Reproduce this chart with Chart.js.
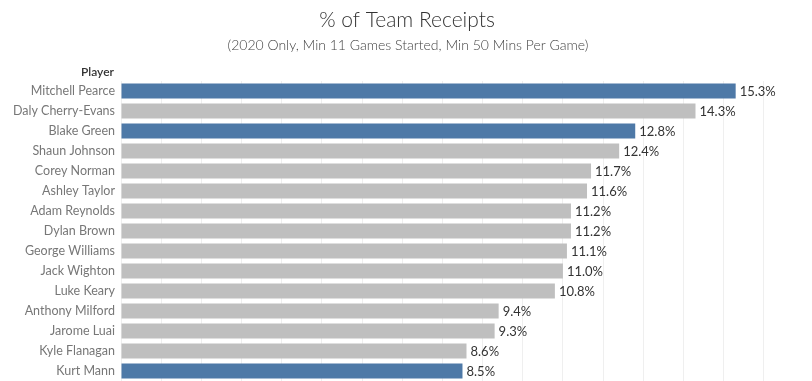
<!DOCTYPE html>
<html>
<head>
<meta charset="utf-8">
<script src="https://cdn.jsdelivr.net/npm/chart.js@4"></script>
<style>
  html, body { margin: 0; padding: 0; background: #fff; }
  #wrap { width: 812px; height: 381px; position: relative; }
</style>
</head>
<body>
<div id="wrap"><canvas id="c" width="812" height="381"></canvas></div>
<script>
const players = ['Mitchell Pearce','Daly Cherry-Evans','Blake Green','Shaun Johnson','Corey Norman','Ashley Taylor','Adam Reynolds','Dylan Brown','George Williams','Jack Wighton','Luke Keary','Anthony Milford','Jarome Luai','Kyle Flanagan','Kurt Mann'];
const receiptsPct = [15.3, 14.3, 12.8, 12.4, 11.7, 11.6, 11.2, 11.2, 11.1, 11.0, 10.8, 9.4, 9.3, 8.6, 8.5];
const highlighted = ['Mitchell Pearce','Blake Green','Kurt Mann'];
const titleText = '% of Team Receipts';
const subtitleText = '(2020 Only, Min 11 Games Started, Min 50 Mins Per Game)';
const rowHeader = 'Player';

const FONT = 'Lato, "Noto Sans", sans-serif';
const BLUE = '#4e79a7', GREY = '#bfbfbf';

const textPlugin = {
  id: 'texts',
  afterDraw(chart) {
    const ctx = chart.ctx;
    ctx.save();
    ctx.textAlign = 'center';
    ctx.textBaseline = 'middle';
    ctx.fillStyle = '#333';
    ctx.font = '300 21px ' + FONT;
    ctx.fillText(titleText, 407, 20);
    ctx.fillStyle = '#444';
    ctx.font = '300 14px ' + FONT;
    ctx.fillText(subtitleText, 408, 45);
    ctx.textAlign = 'right';
    ctx.fillStyle = '#333';
    ctx.font = '600 12px ' + FONT;
    ctx.fillText(rowHeader, 114, 72);
    const meta = chart.getDatasetMeta(0);
    ctx.textAlign = 'left';
    ctx.font = '13px ' + FONT;
    ctx.fillStyle = '#333';
    meta.data.forEach((bar, i) => {
      ctx.fillText(receiptsPct[i].toFixed(1) + '%', bar.x + 4, bar.y + 1);
    });
    ctx.restore();
  }
};

new Chart(document.getElementById('c'), {
  type: 'bar',
  data: {
    labels: players,
    datasets: [{
      data: receiptsPct,
      backgroundColor: players.map(p => highlighted.includes(p) ? BLUE : GREY),
      barPercentage: 0.75,
      categoryPercentage: 1.0
    }]
  },
  options: {
    indexAxis: 'y',
    responsive: false,
    animation: false,
    layout: { autoPadding: false, padding: { top: 81, left: 0, right: 0, bottom: 0 } },
    plugins: { legend: { display: false }, tooltip: { enabled: false }, title: { display: false } },
    scales: {
      x: {
        min: 0, max: 17.2,
        ticks: { display: false, stepSize: 1 },
        grid: { color: '#efefef', drawTicks: false, lineWidth: 1 },
        border: { display: false },
        afterFit(scale) { scale.height = 0; scale.paddingLeft = 0; scale.paddingRight = 0; }
      },
      y: {
        ticks: { color: '#777', font: { family: FONT, size: 12.5 }, padding: 6 },
        grid: { display: false, drawTicks: false },
        border: { display: false },
        afterFit(scale) { scale.width = 121; scale.paddingTop = 0; scale.paddingBottom = 0; }
      }
    }
  },
  plugins: [textPlugin]
});
</script>
</body>
</html>
